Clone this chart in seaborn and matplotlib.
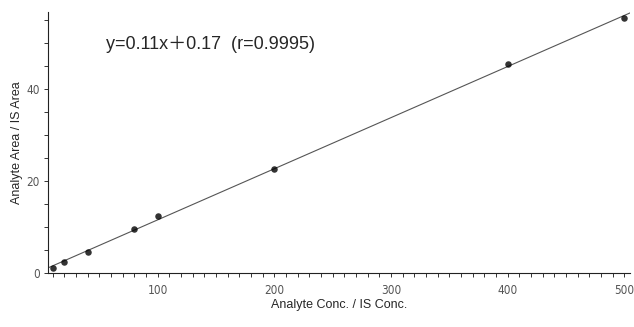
# calibration curve: analyte / internal standard ratio
import numpy as np
import matplotlib
matplotlib.use("Agg")
import matplotlib.pyplot as plt
from matplotlib.ticker import MultipleLocator
import seaborn as sns

conc_ratio = [10, 20, 40, 80, 100, 200, 400, 500]
area_ratio = [1.2, 2.4, 4.6, 9.5, 12.4, 22.6, 45.4, 55.4]
x_label = "Analyte Conc. / IS Conc."
y_label = "Analyte Area / IS Area"
equation = "y=0.11x\uff0b0.17  (r=0.9995)"

sns.set_style("ticks")
plt.rcParams["font.family"] = ["Liberation Sans", "Noto Sans CJK JP", "DejaVu Sans"]

fig = plt.figure(figsize=(6.34, 3.27), dpi=100)
ax = fig.add_axes([0.0757, 0.165, 0.918, 0.798])

sns.regplot(x=conc_ratio, y=area_ratio, ax=ax, ci=None, truncate=False,
            scatter_kws=dict(s=22, color="black", linewidths=0, zorder=3),
            line_kws=dict(color="#555555", lw=0.8))

ax.set_xlim(6, 505)
ax.set_ylim(0, 56.7)
ax.xaxis.set_major_locator(MultipleLocator(100))
ax.xaxis.set_minor_locator(MultipleLocator(10))
ax.yaxis.set_major_locator(MultipleLocator(20))
ax.yaxis.set_minor_locator(MultipleLocator(5))
ax.tick_params(axis="both", which="both", length=3, width=0.7, color="#333333",
               labelsize=8.5, labelcolor="#555555")
ax.tick_params(axis="x", which="major", pad=5)
ax.tick_params(axis="y", which="major", pad=3)
for lbl in ax.get_xticklabels() + ax.get_yticklabels():
    lbl.set_family("DejaVu Sans")
    lbl.set_stretch("condensed")

sns.despine(ax=ax)
for s in ["left", "bottom"]:
    ax.spines[s].set_linewidth(0.8)
    ax.spines[s].set_color("#222222")

ax.set_xlabel(x_label, fontsize=9, labelpad=1)
ax.set_ylabel(y_label, fontsize=9, labelpad=2)
ax.text(0.1, 0.875, equation, transform=ax.transAxes, fontsize=13,
        va="center", ha="left")

fig.savefig("out.png", dpi=100)
